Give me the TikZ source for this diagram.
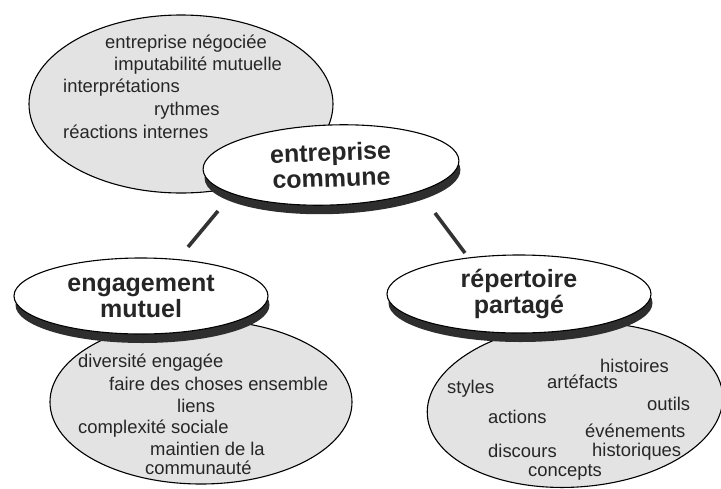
\documentclass[tikz,border=0pt]{standalone}
\usepackage{fontspec}
\setmainfont{Liberation Sans}
\usetikzlibrary{shapes.geometric,shadows}
\tikzset{
  grayell/.style={ellipse, draw=black, line width=1.1pt, fill=black!11, inner sep=0pt},
  whiteell/.style={ellipse, draw=black, line width=1.1pt, fill=white, inner sep=0pt,
    align=center, font=\fontsize{25}{26}\selectfont\bfseries, text=black!85,
    general shadow={fill=black!82, shadow xshift=1.5pt, shadow yshift=-9pt}},
  item/.style={anchor=base west, inner sep=0pt, font=\fontsize{18.4}{20}\selectfont, text=black!85},
  link/.style={line width=3.6pt, draw=black!80}
}
\begin{document}
\begin{tikzpicture}[x=1pt,y=-1pt]
\useasboundingbox (0,0) rectangle (721,488);
% top group
\node[grayell, minimum width=304pt, minimum height=178pt] (g1) at (181,104) {};
\node[item] (a1) at (105,48) {entreprise négociée};
\node[item] (a2) at (114,70) {imputabilité mutuelle};
\node[item] (a3) at (63,92) {interprétations};
\node[item] (a4) at (154,115) {rythmes};
\node[item] (a5) at (63,138) {réactions internes};
\node[whiteell, minimum width=256pt, minimum height=80pt, rotate=2] (ec) at (331,165) {entreprise\\commune};
% left group
\node[grayell, minimum width=302pt, minimum height=164pt] (g2) at (201,402) {};
\node[item] (b1) at (78,367) {diversité engagée};
\node[item] (b2) at (109,390) {faire des choses ensemble};
\node[item] (b3) at (177,412) {liens};
\node[item] (b4) at (78,433) {complexité sociale};
\node[item] (b5) at (150,455) {maintien de la};
\node[item] (b6) at (145,474) {communauté};
\node[whiteell, minimum width=254pt, minimum height=76pt] (em) at (141,296) {engagement\\mutuel};
% right group
\node[grayell, minimum width=296pt, minimum height=164pt, rotate=4] (g3) at (575,405) {};
\node[item] (c1) at (600,372) {histoires};
\node[item] (c2) at (547,388) {artéfacts};
\node[item] (c3) at (447,393) {styles};
\node[item] (c4) at (647,410) {outils};
\node[item] (c5) at (488,423) {actions};
\node[item] (c6) at (585,437) {événements};
\node[item] (c7) at (488,457) {discours};
\node[item] (c8) at (592,456) {historiques};
\node[item] (c9) at (528,476) {concepts};
\node[whiteell, minimum width=264pt, minimum height=78pt] (er) at (519,294) {répertoire\\partagé};
% connectors
\coordinate (l1) at (218,211);
\coordinate (l2) at (188,247);
\coordinate (r1) at (435,213);
\coordinate (r2) at (465,253);
\draw[link] (l1) -- (l2);
\draw[link] (r1) -- (r2);
\end{tikzpicture}
\end{document}
